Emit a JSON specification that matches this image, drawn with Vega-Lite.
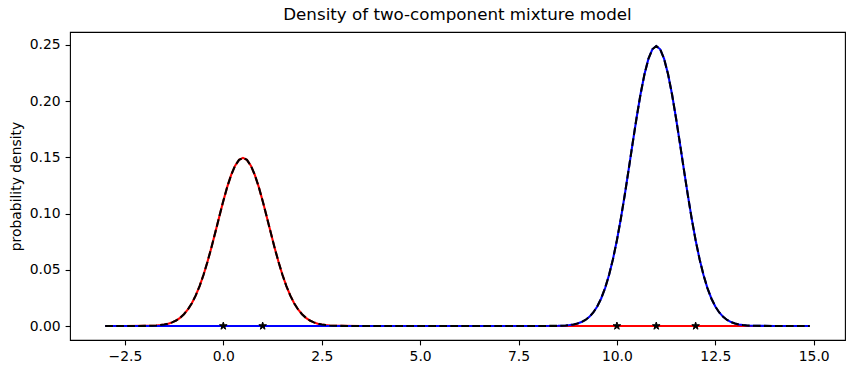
{
  "$schema": "https://vega.github.io/schema/vega-lite/v6.json",
  "width": 775,
  "height": 308,
  "autosize": {"type": "none"},
  "padding": {"left": 70, "top": 32, "right": 10, "bottom": 34},
  "background": "white",
  "title": {"text": "Density of two-component mixture model", "font": "DejaVu Sans", "fontSize": 16.7, "fontWeight": "normal", "color": "black", "anchor": "middle", "offset": 8},
  "config": {
    "font": "DejaVu Sans",
    "view": {"stroke": "black", "strokeWidth": 1.1},
    "axis": {"domain": false, "grid": false, "ticks": true, "tickColor": "black", "tickSize": 4.9, "tickWidth": 1.1, "labelPadding": 4.9, "labelFontSize": 13.9, "labelColor": "black", "labelFont": "DejaVu Sans", "titleFont": "DejaVu Sans", "titleFontSize": 13.9, "titleFontWeight": "normal", "titleColor": "black"}
  },
  "datasets": {
    "curves": [
      {"x": -3, "r": 0, "b": 0, "m": 0},
      {"x": -2.5, "r": 0, "b": 0, "m": 0},
      {"x": -2.0, "r": 0.00009, "b": 0, "m": 0.00009},
      {"x": -1.9, "r": 0.00016, "b": 0, "m": 0.00016},
      {"x": -1.8, "r": 0.00029, "b": 0, "m": 0.00029},
      {"x": -1.7, "r": 0.00049, "b": 0, "m": 0.00049},
      {"x": -1.6, "r": 0.00081, "b": 0, "m": 0.00081},
      {"x": -1.5, "r": 0.00131, "b": 0, "m": 0.00131},
      {"x": -1.4, "r": 0.00209, "b": 0, "m": 0.00209},
      {"x": -1.3, "r": 0.00323, "b": 0, "m": 0.00323},
      {"x": -1.2, "r": 0.00489, "b": 0, "m": 0.00489},
      {"x": -1.1, "r": 0.00723, "b": 0, "m": 0.00723},
      {"x": -1.0, "r": 0.01043, "b": 0, "m": 0.01043},
      {"x": -0.9, "r": 0.01470, "b": 0, "m": 0.01470},
      {"x": -0.8, "r": 0.02023, "b": 0, "m": 0.02023},
      {"x": -0.7, "r": 0.02720, "b": 0, "m": 0.02720},
      {"x": -0.6, "r": 0.03571, "b": 0, "m": 0.03571},
      {"x": -0.5, "r": 0.04578, "b": 0, "m": 0.04578},
      {"x": -0.4, "r": 0.05732, "b": 0, "m": 0.05732},
      {"x": -0.3, "r": 0.07010, "b": 0, "m": 0.07010},
      {"x": -0.2, "r": 0.08371, "b": 0, "m": 0.08371},
      {"x": -0.1, "r": 0.09764, "b": 0, "m": 0.09764},
      {"x": 0.0, "r": 0.11121, "b": 0, "m": 0.11121},
      {"x": 0.1, "r": 0.12371, "b": 0, "m": 0.12371},
      {"x": 0.2, "r": 0.13440, "b": 0, "m": 0.13440},
      {"x": 0.3, "r": 0.14259, "b": 0, "m": 0.14259},
      {"x": 0.4, "r": 0.14774, "b": 0, "m": 0.14774},
      {"x": 0.5, "r": 0.14950, "b": 0, "m": 0.14950},
      {"x": 0.6, "r": 0.14774, "b": 0, "m": 0.14774},
      {"x": 0.7, "r": 0.14259, "b": 0, "m": 0.14259},
      {"x": 0.8, "r": 0.13440, "b": 0, "m": 0.13440},
      {"x": 0.9, "r": 0.12371, "b": 0, "m": 0.12371},
      {"x": 1.0, "r": 0.11121, "b": 0, "m": 0.11121},
      {"x": 1.1, "r": 0.09764, "b": 0, "m": 0.09764},
      {"x": 1.2, "r": 0.08371, "b": 0, "m": 0.08371},
      {"x": 1.3, "r": 0.07010, "b": 0, "m": 0.07010},
      {"x": 1.4, "r": 0.05732, "b": 0, "m": 0.05732},
      {"x": 1.5, "r": 0.04578, "b": 0, "m": 0.04578},
      {"x": 1.6, "r": 0.03571, "b": 0, "m": 0.03571},
      {"x": 1.7, "r": 0.02720, "b": 0, "m": 0.02720},
      {"x": 1.8, "r": 0.02023, "b": 0, "m": 0.02023},
      {"x": 1.9, "r": 0.01470, "b": 0, "m": 0.01470},
      {"x": 2.0, "r": 0.01043, "b": 0, "m": 0.01043},
      {"x": 2.1, "r": 0.00723, "b": 0, "m": 0.00723},
      {"x": 2.2, "r": 0.00489, "b": 0, "m": 0.00489},
      {"x": 2.3, "r": 0.00323, "b": 0, "m": 0.00323},
      {"x": 2.4, "r": 0.00209, "b": 0, "m": 0.00209},
      {"x": 2.5, "r": 0.00131, "b": 0, "m": 0.00131},
      {"x": 2.6, "r": 0.00081, "b": 0, "m": 0.00081},
      {"x": 2.7, "r": 0.00049, "b": 0, "m": 0.00049},
      {"x": 2.8, "r": 0.00029, "b": 0, "m": 0.00029},
      {"x": 2.9, "r": 0.00016, "b": 0, "m": 0.00016},
      {"x": 3.0, "r": 0.00009, "b": 0, "m": 0.00009},
      {"x": 3.5, "r": 0, "b": 0, "m": 0},
      {"x": 5.0, "r": 0, "b": 0, "m": 0},
      {"x": 6.5, "r": 0, "b": 0, "m": 0},
      {"x": 8.0, "r": 0, "b": 0, "m": 0},
      {"x": 8.5, "r": 0, "b": 0.00015, "m": 0.00015},
      {"x": 8.6, "r": 0, "b": 0.00027, "m": 0.00027},
      {"x": 8.7, "r": 0, "b": 0.00048, "m": 0.00048},
      {"x": 8.8, "r": 0, "b": 0.00081, "m": 0.00081},
      {"x": 8.9, "r": 0, "b": 0.00135, "m": 0.00135},
      {"x": 9.0, "r": 0, "b": 0.00219, "m": 0.00219},
      {"x": 9.1, "r": 0, "b": 0.00347, "m": 0.00347},
      {"x": 9.2, "r": 0, "b": 0.00538, "m": 0.00538},
      {"x": 9.3, "r": 0, "b": 0.00814, "m": 0.00814},
      {"x": 9.4, "r": 0, "b": 0.01204, "m": 0.01204},
      {"x": 9.5, "r": 0, "b": 0.01737, "m": 0.01737},
      {"x": 9.6, "r": 0, "b": 0.02448, "m": 0.02448},
      {"x": 9.7, "r": 0, "b": 0.03370, "m": 0.03370},
      {"x": 9.8, "r": 0, "b": 0.04530, "m": 0.04530},
      {"x": 9.9, "r": 0, "b": 0.05947, "m": 0.05947},
      {"x": 10.0, "r": 0, "b": 0.07625, "m": 0.07625},
      {"x": 10.1, "r": 0, "b": 0.09547, "m": 0.09547},
      {"x": 10.2, "r": 0, "b": 0.11675, "m": 0.11675},
      {"x": 10.3, "r": 0, "b": 0.13943, "m": 0.13943},
      {"x": 10.4, "r": 0, "b": 0.16263, "m": 0.16263},
      {"x": 10.5, "r": 0, "b": 0.18522, "m": 0.18522},
      {"x": 10.6, "r": 0, "b": 0.20605, "m": 0.20605},
      {"x": 10.7, "r": 0, "b": 0.22384, "m": 0.22384},
      {"x": 10.8, "r": 0, "b": 0.23749, "m": 0.23749},
      {"x": 10.9, "r": 0, "b": 0.24607, "m": 0.24607},
      {"x": 11.0, "r": 0, "b": 0.24900, "m": 0.24900},
      {"x": 11.1, "r": 0, "b": 0.24607, "m": 0.24607},
      {"x": 11.2, "r": 0, "b": 0.23749, "m": 0.23749},
      {"x": 11.3, "r": 0, "b": 0.22384, "m": 0.22384},
      {"x": 11.4, "r": 0, "b": 0.20605, "m": 0.20605},
      {"x": 11.5, "r": 0, "b": 0.18522, "m": 0.18522},
      {"x": 11.6, "r": 0, "b": 0.16263, "m": 0.16263},
      {"x": 11.7, "r": 0, "b": 0.13943, "m": 0.13943},
      {"x": 11.8, "r": 0, "b": 0.11675, "m": 0.11675},
      {"x": 11.9, "r": 0, "b": 0.09547, "m": 0.09547},
      {"x": 12.0, "r": 0, "b": 0.07625, "m": 0.07625},
      {"x": 12.1, "r": 0, "b": 0.05947, "m": 0.05947},
      {"x": 12.2, "r": 0, "b": 0.04530, "m": 0.04530},
      {"x": 12.3, "r": 0, "b": 0.03370, "m": 0.03370},
      {"x": 12.4, "r": 0, "b": 0.02448, "m": 0.02448},
      {"x": 12.5, "r": 0, "b": 0.01737, "m": 0.01737},
      {"x": 12.6, "r": 0, "b": 0.01204, "m": 0.01204},
      {"x": 12.7, "r": 0, "b": 0.00814, "m": 0.00814},
      {"x": 12.8, "r": 0, "b": 0.00538, "m": 0.00538},
      {"x": 12.9, "r": 0, "b": 0.00347, "m": 0.00347},
      {"x": 13.0, "r": 0, "b": 0.00219, "m": 0.00219},
      {"x": 13.1, "r": 0, "b": 0.00135, "m": 0.00135},
      {"x": 13.2, "r": 0, "b": 0.00081, "m": 0.00081},
      {"x": 13.3, "r": 0, "b": 0.00048, "m": 0.00048},
      {"x": 13.4, "r": 0, "b": 0.00027, "m": 0.00027},
      {"x": 13.5, "r": 0, "b": 0.00015, "m": 0.00015},
      {"x": 14.0, "r": 0, "b": 0, "m": 0},
      {"x": 14.9, "r": 0, "b": 0, "m": 0}
    ],
    "stars": [
      {"x": 0, "v": 0},
      {"x": 1, "v": 0},
      {"x": 10, "v": 0},
      {"x": 11, "v": 0},
      {"x": 12, "v": 0}
    ]
  },
  "encoding": {
    "x": {"field": "x", "type": "quantitative",
      "scale": {"domain": [-3.895, 15.795], "nice": false, "zero": false},
      "axis": {"values": [-2.5, 0, 2.5, 5, 7.5, 10, 12.5, 15], "format": ".1f", "title": null}},
    "y": {"field": "v", "type": "quantitative",
      "scale": {"domain": [-0.01245, 0.26145], "nice": false, "zero": false},
      "axis": {"values": [0, 0.05, 0.1, 0.15, 0.2, 0.25], "format": ".2f", "title": "probability density", "titlePadding": 6}}
  },
  "layer": [
    {
      "data": {"name": "curves"},
      "transform": [{"fold": ["r"], "as": ["s", "v"]}],
      "mark": {"type": "line", "color": "red", "strokeWidth": 2.08}
    },
    {
      "data": {"name": "curves"},
      "transform": [{"fold": ["b"], "as": ["s", "v"]}],
      "mark": {"type": "line", "color": "blue", "strokeWidth": 2.08}
    },
    {
      "data": {"name": "curves"},
      "transform": [{"fold": ["m"], "as": ["s", "v"]}],
      "mark": {"type": "line", "color": "black", "strokeWidth": 2.08, "strokeDash": [7.7, 3.3]}
    },
    {
      "data": {"name": "stars"},
      "mark": {"type": "point", "shape": "M0,-1L0.2245,-0.309L0.9511,-0.309L0.3633,0.118L0.5878,0.809L0,0.382L-0.5878,0.809L-0.3633,0.118L-0.9511,-0.309L-0.2245,-0.309Z", "filled": true, "fill": "black", "stroke": "black", "strokeWidth": 1, "size": 64, "opacity": 1}
    }
  ]
}
